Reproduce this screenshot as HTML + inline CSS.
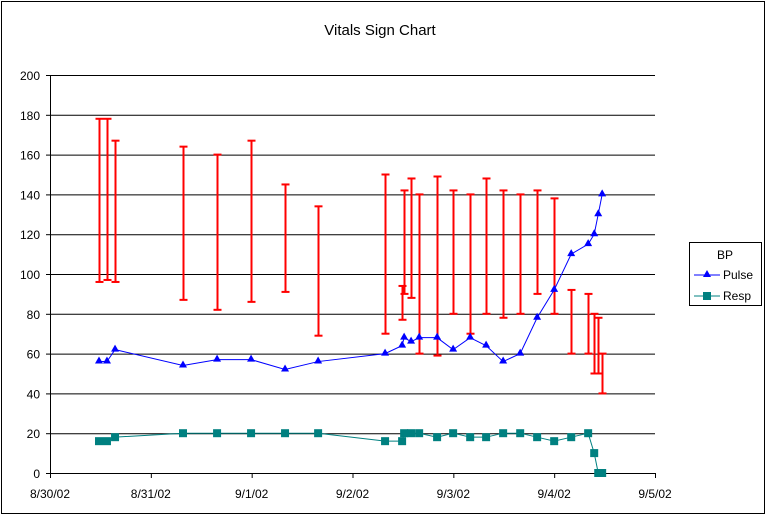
<!DOCTYPE html>
<html><head><meta charset="utf-8"><style>
html,body{margin:0;padding:0;background:#fff;}
svg{display:block;font-family:"Liberation Sans",Arial,sans-serif;}
</style></head><body>
<svg id="chart" width="771" height="520" viewBox="0 0 771 520">
<rect x="1.5" y="1.5" width="763" height="512" fill="#fff" stroke="#000" stroke-width="1"/>
<text x="380" y="35" text-anchor="middle" font-size="15">Vitals Sign Chart</text>
<g id="grid"></g><g id="axes"></g><g id="bp"></g><g id="pulse"></g><g id="resp"></g>
<g>
<rect x="689.5" y="242.5" width="72" height="63" fill="#fff" stroke="#000"/>
<text x="725" y="259" text-anchor="middle" font-size="12">BP</text>
<g><line x1="694" y1="275" x2="720" y2="275" stroke="#0000ff"/><polygon points="707,270 711,277 703,277" fill="#0000ff"/><text x="723" y="279" font-size="12">Pulse</text></g>
<g><line x1="694" y1="296" x2="720" y2="296" stroke="#008080"/><rect x="703" y="292" width="8" height="8" fill="#008080"/><text x="723" y="300" font-size="12">Resp</text></g>
</g>
</svg>
<script>
// day offsets from 8/30/02
const times = [0.486,0.565,0.645,1.319,1.657,1.994,2.331,2.659,3.323,3.492,3.512,3.581,3.661,3.839,3.998,4.167,4.325,4.494,4.663,4.831,5.0,5.169,5.337,5.397,5.437,5.476];
const pulse = [56,56,62,54,57,57,52,56,60,64,68,66,68,68,62,68,64,56,60,78,92,110,115,120,130,140];
const resp = [16,16,18,20,20,20,20,20,16,16,20,20,20,18,20,18,18,20,20,18,16,18,20,10,0,0];
const bpHigh = [178,178,167,164,160,167,145,134,150,94,142,148,140,149,142,140,148,142,140,142,138,92,90,80,78,60];
const bpLow = [96,97,96,87,82,86,91,69,70,77,90,88,60,59,80,70,80,78,80,90,80,60,60,50,50,40];
const yTicks = [0,20,40,60,80,100,120,140,160,180,200];
const xTickLabels = ["8/30/02","8/31/02","9/1/02","9/2/02","9/3/02","9/4/02","9/5/02"];
const NS="http://www.w3.org/2000/svg";
const X0=50,X1=655,Y0=473,Y1=75;
const xs=d=>X0+d*(X1-X0)/6;
const ys=v=>Y0-v*(Y0-Y1)/200;
function mk(tag,attrs,parent){const e=document.createElementNS(NS,tag);for(const k in attrs)e.setAttribute(k,attrs[k]);parent.appendChild(e);return e;}
const grid=document.getElementById('grid'),axes=document.getElementById('axes');
yTicks.forEach(v=>{
 const l=mk('line',{x1:X0,x2:X1,y1:ys(v)+0.5,y2:ys(v)+0.5,stroke:'#000'},grid);
 
 
 const t=mk('text',{x:X0-10,y:ys(v)+5,'text-anchor':'end','font-size':12},axes);
 t.textContent=v;
 
 
 mk('line',{x1:X0-4,x2:X0,y1:ys(v)+0.5,y2:ys(v)+0.5,stroke:'#000'},axes);
});
const ya=mk('line',{x1:X0+0.5,x2:X0+0.5,y1:Y1,y2:Y0,stroke:'#000'},axes);


xTickLabels.forEach((s,i)=>{
 mk('line',{x1:xs(i)+0.5,x2:xs(i)+0.5,y1:Y0,y2:Y0+5,stroke:'#000'},axes);
 const t=mk('text',{x:xs(i),y:Y0+25,'text-anchor':'middle','font-size':12},axes);
 t.textContent=s;
 
 
});
const bp=document.getElementById('bp');
times.forEach((d,i)=>{
 const x=Math.round(xs(d))+0.5,t=ys(bpHigh[i]),b=ys(bpLow[i]);
 const g=mk('g',{stroke:'#ff0000','stroke-width':2},bp);
 
 
 mk('line',{x1:x,x2:x,y1:t,y2:b},g);
 mk('line',{x1:x-4,x2:x+4,y1:t,y2:t},g);
 mk('line',{x1:x-4,x2:x+4,y1:b,y2:b},g);
});
function series(vals,color,gid,name,marker){
 const g=document.getElementById(gid);
 const pts=times.map((d,i)=>xs(d)+','+ys(vals[i])).join(' ');
 const pl=mk('polyline',{points:pts,fill:'none',stroke:color,'stroke-width':1},g);
 
 
 times.forEach((d,i)=>{
  const x=xs(d),y=ys(vals[i]);let m;
  if(marker==='tri')m=mk('polygon',{points:`${x},${y-5} ${x+4},${y+2} ${x-4},${y+2}`,fill:color},g);
  else m=mk('rect',{x:x-4,y:y-4,width:8,height:8,fill:color},g);
  
  
 });
}
series(pulse,'#0000ff','pulse','pulse','tri');
series(resp,'#008080','resp','resp','sq');
</script>
</body></html>
